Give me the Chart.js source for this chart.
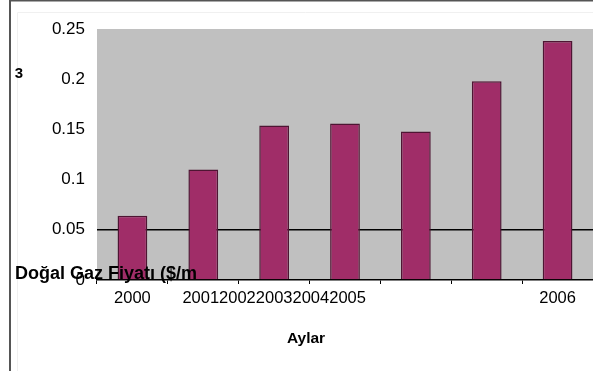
<!DOCTYPE html>
<html>
<head>
<meta charset="utf-8">
<script src="https://cdn.jsdelivr.net/npm/chart.js@4/dist/chart.umd.min.js"></script>
<style>
  html, body { margin: 0; padding: 0; background: #ffffff; }
  #wrap { position: relative; width: 593px; height: 371px; }
</style>
</head>
<body>
<div id="wrap"><canvas id="c" width="593" height="371"></canvas></div>
<script>
// Yearly natural gas prices ($/m³)
const categories = ['2000', '2001', '2002', '2003', '2004', '2005', '2006'];
const prices = [0.064, 0.110, 0.154, 0.156, 0.148, 0.198, 0.238];
// Labels printed under the category axis
const tickLabels = ['2000', '', '20012002200320042005', '', '', '', '2006'];
const yTicks = [0, 0.05, 0.1, 0.15, 0.2, 0.25];

const FONT = '"Liberation Sans", Arial, sans-serif';

// Frame, axis titles and plot background
const decor = {
  id: 'decor',
  beforeDraw(chart) {
    const { ctx, chartArea: a } = chart;
    ctx.save();
    ctx.fillStyle = '#c0c0c0';
    ctx.fillRect(a.left, a.top, a.right - a.left, a.bottom - a.top);
    // outer frame
    ctx.fillStyle = '#555555';
    ctx.fillRect(9, 0, 2, 371);
    ctx.fillRect(9, 0, 584, 1.5);
    ctx.strokeStyle = '#f0f0f0';
    ctx.lineWidth = 1;
    ctx.beginPath();
    ctx.moveTo(17.5, 371); ctx.lineTo(17.5, 12.5); ctx.lineTo(593, 12.5);
    ctx.stroke();
    ctx.restore();
  },
  afterDraw(chart) {
    const { ctx } = chart;
    ctx.save();
    ctx.fillStyle = '#000000';
    ctx.font = 'bold 18px ' + FONT;
    ctx.textBaseline = 'alphabetic';
    ctx.textAlign = 'left';
    ctx.fillText('Doğal Gaz Fiyatı ($/m', 15, 279);
    ctx.font = 'bold 15.5px ' + FONT;
    ctx.textAlign = 'center';
    ctx.fillText('Aylar', 306, 343);
    ctx.font = 'bold 15px ' + FONT;
    ctx.fillText('3', 19, 78);
    ctx.restore();
  }
};

new Chart(document.getElementById('c'), {
  type: 'bar',
  data: {
    labels: categories,
    datasets: [{
      data: prices,
      backgroundColor: '#a02d68',
      borderColor: '#4e1533',
      borderWidth: 1.5,
      categoryPercentage: 0.84,
      barPercentage: 0.5
    }]
  },
  options: {
    responsive: false,
    animation: false,
    devicePixelRatio: 1,
    layout: { padding: { top: 29, right: 0, left: 0, bottom: 0 } },
    plugins: { legend: { display: false }, tooltip: { enabled: false } },
    scales: {
      x: {
        offset: true,
        afterFit(s) { s.height = 91; },
        grid: {
          offset: true,
          drawOnChartArea: false,
          drawTicks: true,
          tickLength: 4,
          color: '#000000'
        },
        border: { display: true, color: '#000000', width: 1.5 },
        ticks: {
          autoSkip: false,
          maxRotation: 0,
          minRotation: 0,
          padding: 5,
          color: '#000000',
          font: { family: FONT, size: 16.5 },
          callback: (v, i) => tickLabels[i]
        }
      },
      y: {
        min: 0,
        max: 0.25,
        afterFit(s) { s.width = 97; },
        afterBuildTicks(s) { s.ticks = yTicks.map(v => ({ value: v })); },
        grid: {
          drawTicks: false,
          lineWidth: 1.5,
          color: ctx => (ctx.tick && Math.abs(ctx.tick.value - 0.05) < 1e-9) ? '#000000' : 'rgba(0,0,0,0)'
        },
        border: { display: false },
        ticks: {
          padding: 12,
          color: '#000000',
          font: { family: FONT, size: 17 },
          callback: v => String(+v.toFixed(2))
        }
      }
    }
  },
  plugins: [decor]
});
</script>
</body>
</html>
